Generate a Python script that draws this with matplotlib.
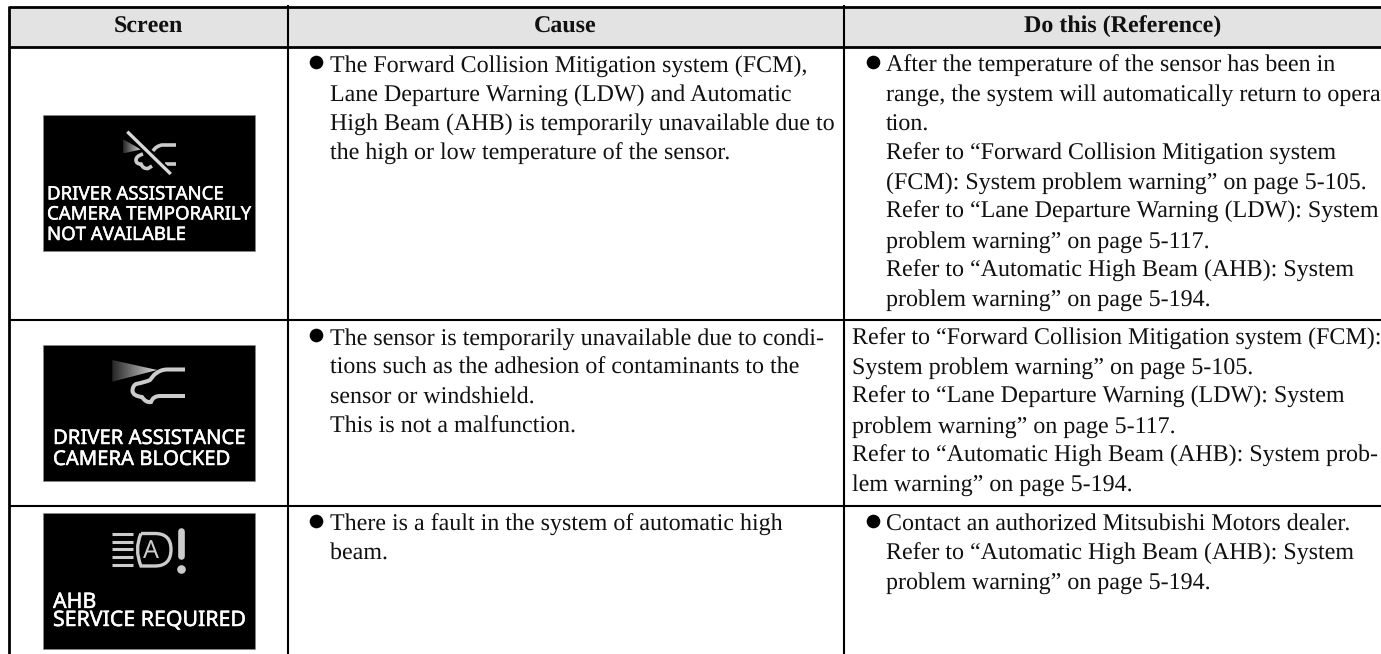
import matplotlib
matplotlib.use("Agg")
import matplotlib.pyplot as plt
import matplotlib.patheffects as pe
from matplotlib.patches import Rectangle, Polygon, PathPatch
from matplotlib.path import Path
import numpy as np

plt.rcParams["text.hinting"] = "no_hinting"
plt.rcParams["text.hinting_factor"] = 1

headers = ["Screen", "Cause", "Do this (Reference)"]

screen_labels = [
    ["DRIVER ASSISTANCE", "CAMERA TEMPORARILY", "NOT AVAILABLE"],
    ["DRIVER ASSISTANCE", "CAMERA BLOCKED"],
    ["AHB\nSERVICE REQUIRED"],
]

cause_lines = [
    ["The Forward Collision Mitigation system (FCM),",
     "Lane Departure Warning (LDW) and Automatic",
     "High Beam (AHB) is temporarily unavailable due to",
     "the high or low temperature of the sensor."],
    ["The sensor is temporarily unavailable due to condi-",
     "tions such as the adhesion of contaminants to the",
     "sensor or windshield.",
     "This is not a malfunction."],
    ["There is a fault in the system of automatic high",
     "beam."],
]

action_lines = [
    ["After the temperature of the sensor has been in",
     "range, the system will automatically return to opera-",
     "tion.",
     "Refer to \u201cForward Collision Mitigation system",
     "(FCM): System problem warning\u201d on page 5-105.",
     "Refer to \u201cLane Departure Warning (LDW): System",
     "problem warning\u201d on page 5-117.",
     "Refer to \u201cAutomatic High Beam (AHB): System",
     "problem warning\u201d on page 5-194."],
    ["Refer to \u201cForward Collision Mitigation system (FCM):",
     "System problem warning\u201d on page 5-105.",
     "Refer to \u201cLane Departure Warning (LDW): System",
     "problem warning\u201d on page 5-117.",
     "Refer to \u201cAutomatic High Beam (AHB): System prob-",
     "lem warning\u201d on page 5-194."],
    ["Contact an authorized Mitsubishi Motors dealer.",
     "Refer to \u201cAutomatic High Beam (AHB): System",
     "problem warning\u201d on page 5-194."],
]

# layout in page pixels
W, H = 1381, 654
col_x = [9.5, 287.7, 843.7]
row_y = [46.5, 320, 506]
first_base = [71.7, 344.7, 530.7]
line_h = 29.3
panel_top = [115, 345, 513]
icon_col = "#cccccc"

fig = plt.figure(figsize=(W / 100, H / 100), dpi=100)
ax = fig.add_axes([0, 0, 1, 1])
ax.set_xlim(0, W)
ax.set_ylim(H, 0)
ax.axis("off")

serif = "Liberation Serif"
fs = 17.1

# header band
ax.add_patch(Rectangle((col_x[0], 7), W - col_x[0], row_y[0] - 7, fc="#e3e3e3", ec="none"))
for name, cx in zip(headers, [148, 565, 1122.7]):
    ax.text(cx, 32.7, name, family=serif, fontsize=fs, fontweight="bold", ha="center", va="baseline", color="#111111")

# grid
ax.plot([col_x[0], W], [7.3, 7.3], color="black", lw=2.0, solid_capstyle="butt")
ax.plot([col_x[0], W], [row_y[0], row_y[0]], color="black", lw=2.0, solid_capstyle="butt")
for y in row_y[1:]:
    ax.plot([col_x[0], W], [y, y], color="black", lw=1.5, solid_capstyle="butt")
ax.plot([col_x[0], col_x[0]], [6, H], color="black", lw=2.0, solid_capstyle="butt")
for x in col_x[1:]:
    ax.plot([x, x], [5, H], color="black", lw=1.5, solid_capstyle="butt")


def put_lines(lines, x, base, bullet_x=None):
    if bullet_x is not None:
        ax.plot([bullet_x], [base - 9.5], "o", color="black", ms=9.8, mew=0)
    for i, s in enumerate(lines):
        ax.text(x, base + i * line_h, s, family=serif, fontsize=fs, ha="left", va="baseline", color="#111111")


for r in range(3):
    put_lines(cause_lines[r], 330, first_base[r], 316)
put_lines(action_lines[0], 886, first_base[0], 872.7)
put_lines(action_lines[1], 852, first_base[1])
put_lines(action_lines[2], 886, first_base[2], 872.7)

# black screen panels
for top in panel_top:
    ax.add_patch(Rectangle((43, top), 212, 136, fc="black", ec="#888888", lw=0.4))


def panel_text(lines, x, bases, size, spacing=1.2):
    for s, b in zip(lines, bases):
        t = ax.text(x, b, s, family="Noto Sans", fontsize=size, color="white", ha="left", va="baseline",
                    linespacing=spacing)
        t.set_path_effects([pe.withStroke(linewidth=0.35, foreground="white")])


panel_text(screen_labels[0], 47, [199.5, 219.5, 240], 13.4)
panel_text(screen_labels[1], 53, [444, 465], 14.6)
panel_text(screen_labels[2], 53, [626], 15.35, spacing=0.8)


def beam(x0, x1, y0, y1, tip_y):
    tri = Polygon([(x0, y0), (x0, y1), (x1, tip_y)], closed=True, fc="none", ec="none")
    ax.add_patch(tri)
    im = ax.imshow(np.linspace(0.15, 0.85, 40).reshape(1, -1), extent=[x0, x1, y1, y0],
                   cmap="gray", vmin=0, vmax=1, aspect="auto", zorder=3)
    im.set_clip_path(tri)


def stroke(pts, lw=2.9, color=icon_col, z=4):
    xs, ys = zip(*pts)
    ax.plot(xs, ys, color=color, lw=lw, solid_capstyle="butt", solid_joinstyle="round", zorder=z)


def curve(verts, codes, lw=2.9, z=4):
    ax.add_patch(PathPatch(Path(verts, codes), fc="none", ec=icon_col, lw=lw, zorder=z, capstyle="butt"))


M, L, C3 = Path.MOVETO, Path.LINETO, Path.CURVE3

# icon 1, crossed camera
beam(122.7, 141, 139, 153.5, 149.5)
curve([(176, 145), (162, 145), (156, 146), (153, 151)], [M, L, C3, C3], lw=2.6)
stroke([(176, 163.7), (165, 163.7)], lw=2.6)
curve([(143, 154), (136, 156), (136, 160), (136, 164), (141, 164), (143, 169), (148, 168.5), (152, 166)],
      [M, C3, C3, C3, C3, C3, C3, L], lw=2.6)
stroke([(127.3, 131.7), (170.7, 174)], lw=5.2, color="black", z=5)
stroke([(127.3, 131.7), (170.7, 174)], lw=2.4, color="#d8d8d8", z=6)

# icon 2, blocked camera
beam(112.3, 157.3, 360, 381.7, 370)
curve([(185, 369.5), (167, 369.5), (160, 369.5), (154, 375), (150, 380), (146, 382),
       (136, 384), (132.5, 386), (132.5, 391), (133, 396), (142, 397), (146, 403),
       (151, 402), (153, 396), (160, 396), (185, 396)],
      [M, L, C3, C3, L, C3, C3, C3, C3, C3, C3, C3, C3, C3, L, L])

# icon 3, high beam fault
for y in [534, 541.7, 549.3, 557.3, 565.3]:
    stroke([(111.7, y), (133.5, y)], lw=2.2)
curve([(141, 533.5), (155, 533.5), (171, 533.5), (171, 549.5), (171, 566), (155, 566), (141, 566),
       (134, 549.5), (141, 533.5)],
      [M, L, C3, C3, C3, C3, L, C3, C3], lw=2.4)
ax.text(150.5, 558.3, "A", family="Noto Sans", fontsize=18, color=icon_col, ha="center", va="baseline", zorder=5)
ax.plot([181, 181], [531, 556], color=icon_col, lw=4.8, solid_capstyle="round", zorder=4)
ax.plot([181], [568.5], "o", color=icon_col, ms=6.2, mew=0, zorder=4)

ax.set_xlim(0, W)
ax.set_ylim(H, 0)
fig.savefig("out.png", dpi=100, facecolor="white")
